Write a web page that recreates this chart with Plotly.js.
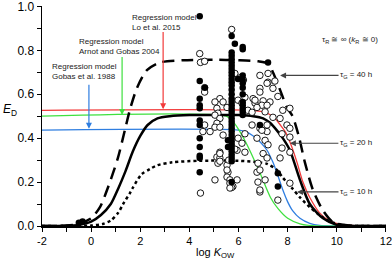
<!DOCTYPE html>
<html>
<head>
<meta charset="utf-8">
<script src="https://cdn.plot.ly/plotly-3.0.1.min.js"></script>
<style>html,body{margin:0;padding:0;background:#fff;}#chart{width:392px;height:265px;}</style>
</head>
<body>
<div id="chart"></div>
<script>
// ---- Data ----
// Model curves (log Kow, E_D)
const tau40X = [-2, -1, -0.5, 0, 0.36, 0.7, 1.09, 1.38, 1.58, 1.87, 2.27, 2.8, 3.74, 5, 6, 6.8, 7.2, 7.36, 7.69, 7.97, 8.2, 8.45, 8.7, 9.03, 9.44, 9.84, 10.5, 12];
const tau40Y = [0, 0.002, 0.01, 0.035, 0.086, 0.18, 0.31, 0.44, 0.53, 0.63, 0.71, 0.745, 0.755, 0.757, 0.755, 0.75, 0.74, 0.71, 0.62, 0.54, 0.50, 0.41, 0.29, 0.164, 0.07, 0.018, 0.002, 0];
const tau20X = [-2, -1, -0.5, 0, 0.4, 0.8, 1.1, 1.4, 1.7, 2.0, 2.3, 2.7, 3.2, 4, 5, 6, 6.6, 7.0, 7.28, 7.6, 7.8, 8.09, 8.5, 8.9, 9.44, 10, 10.5, 12];
const tau20Y = [0, 0.001, 0.005, 0.02, 0.05, 0.1, 0.17, 0.25, 0.34, 0.41, 0.46, 0.49, 0.5, 0.505, 0.505, 0.505, 0.5, 0.49, 0.47, 0.43, 0.40, 0.345, 0.21, 0.1, 0.035, 0.005, 0.001, 0];
const tau10X = [-2, 0, 0.5, 0.8, 1.1, 1.3, 1.58, 1.7, 2.05, 2.4, 2.7, 3.3, 4.4, 6, 6.8, 7.16, 7.56, 7.8, 8.2, 8.5, 8.9, 9.2, 9.6, 10, 10.5, 12];
const tau10Y = [0, 0.002, 0.01, 0.025, 0.06, 0.1, 0.15, 0.175, 0.235, 0.26, 0.277, 0.29, 0.297, 0.297, 0.29, 0.283, 0.255, 0.22, 0.17, 0.13, 0.086, 0.058, 0.027, 0.01, 0.002, 0];
const loX = [-2, 6.5, 7.0, 7.4, 7.7, 7.9, 8.1, 8.38, 8.62, 8.9, 9.3, 9.72, 10.2, 10.8, 12];
const loY = [0.527, 0.527, 0.52, 0.50, 0.46, 0.43, 0.38, 0.29, 0.2, 0.13, 0.06, 0.022, 0.006, 0.001, 0];
const arnotX = [-2, 5.5, 5.75, 6.0, 6.3, 6.6, 6.9, 7.3, 7.6, 8.0, 8.5, 9.0, 12];
const arnotY = [0.50, 0.50, 0.48, 0.44, 0.38, 0.31, 0.235, 0.13, 0.08, 0.035, 0.01, 0.002, 0];
const gobasX = [-2, 6.0, 6.3, 6.6, 6.9, 7.16, 7.4, 7.6, 7.8, 8.0, 8.2, 8.5, 8.9, 9.3, 12];
const gobasY = [0.437, 0.437, 0.43, 0.41, 0.38, 0.345, 0.29, 0.23, 0.165, 0.11, 0.07, 0.035, 0.012, 0.003, 0];

// Observed data (filled)
const filledX = [4.42, 4.42, 4.42, 4.42, 4.42, 4.42, 4.42, 4.42, 4.42, 4.42, 4.42, 4.42, 4.63,
  -0.5, -0.35,
  5.72, 5.72, 5.72, 5.72, 5.72, 5.72, 5.72, 5.72, 5.72, 5.72, 5.72, 5.72, 5.72, 5.72, 5.72, 5.72, 5.72, 5.72, 5.72, 5.72, 5.72, 5.72, 5.72, 5.72, 5.72, 5.72, 5.72, 5.72, 5.72, 5.72, 5.72, 5.72, 5.72, 5.72, 5.72,
  5.85, 5.98, 5.57, 5.57,
  6.17, 6.17, 6.17, 6.17, 6.17, 6.17, 6.17, 6.17, 6.17, 6.17, 6.17, 6.17,
  6.87, 7.2, 7.6, 7.6];
const filledY = [0.955, 0.66, 0.58, 0.55, 0.536, 0.48, 0.46, 0.40, 0.36, 0.32, 0.31, 0.245, 0.63,
  0.015, 0.02,
  0.865, 0.79, 0.775, 0.76, 0.745, 0.73, 0.715, 0.70, 0.685, 0.67, 0.655, 0.64, 0.62, 0.60, 0.58, 0.565, 0.55, 0.535, 0.52, 0.505, 0.49, 0.475, 0.46, 0.445, 0.43, 0.415, 0.40, 0.385, 0.37, 0.355, 0.34, 0.325, 0.31, 0.295, 0.2,
  0.83, 0.67, 0.39, 0.36,
  0.815, 0.805, 0.685, 0.665, 0.65, 0.63, 0.6, 0.565, 0.55, 0.535, 0.52, 0.505,
  0.46, 0.745, 0.24, 0.18];

// Observed data (open)
const openX = [4.42, 4.45, 4.62, 4.62, 4.62, 4.62, 4.45, 5.72, 6.06, 6.2, 5.85,
  6.87, 7.2, 7.2, 7.48, 6.87, 6.87, 7.6, 7.0, 7.28, 6.67, 6.95, 7.16, 8.09, 7.8, 5.24, 5.04, 5.37, 5.53, 5.12, 5.16, 5.98, 6.14, 6.38, 6.55, 6.75, 7.08, 7.4, 7.69, 7.97,
  7.16, 7.4, 6.59, 6.26, 6.67,
  5.04, 5.24, 5.12, 5.04, 5.24, 4.55, 4.84, 5.37, 6.55, 6.87, 7.16, 7.16, 6.26, 5.98, 6.14, 6.26, 5.94, 5.24, 5.12, 5.24, 5.16, 5.53, 5.57, 5.53, 5.65, 5.04, 5.94, 7.08, 6.75, 6.79, 7.0, 7.08, 5.77, 6.87, 6.79, 7.6,
  8.09, 7.77, 8.09, 7.77, 7.2, 7.16, 6.87, 6.75, 8.09, 7.69, 6.87, 8.09, 6.95, 5.72, 5.6, 5.85, 5.24, 5.24, 5.53, 5.65, 5.65];
const openY = [0.785, 0.745, 0.75, 0.63, 0.61, 0.46, 0.15, 0.895, 0.675, 0.665, 0.695,
  0.686, 0.695, 0.655, 0.66, 0.627, 0.61, 0.59, 0.57, 0.565, 0.56, 0.55, 0.55, 0.536, 0.527, 0.58, 0.565, 0.565, 0.54, 0.536, 0.514, 0.573, 0.56, 0.527, 0.518, 0.54, 0.52, 0.495, 0.49, 0.46,
  0.65, 0.627, 0.58, 0.586, 0.573,
  0.505, 0.49, 0.468, 0.45, 0.45, 0.43, 0.43, 0.414, 0.46, 0.445, 0.46, 0.43, 0.42, 0.40, 0.377, 0.336, 0.345, 0.336, 0.314, 0.31, 0.286, 0.277, 0.245, 0.223, 0.21, 0.21, 0.21, 0.21, 0.245, 0.286, 0.33, 0.39, 0.18, 0.155, 0.2, 0.118,
  0.336, 0.355, 0.195, 0.42, 0.37, 0.31, 0.164, 0.40, 0.405, 0.31, 0.255, 0.445, 0.436, 0.175, 0.30, 0.35, 0.33, 0.295, 0.255, 0.195, 0.173];

const xTicks = [-2, 0, 2, 4, 6, 8, 10, 12];
const yTicks = [0.0, 0.2, 0.4, 0.6, 0.8, 1.0];

// ---- Chart ----
const FONT = 'Liberation Sans, Arial, Helvetica, sans-serif';
const RED = '#f23a3a', GREEN = '#3fe03f', BLUE = '#2f7ee0';
const sm = 0.75;
function curve(x, y, color, width, dash) {
  return {x: x, y: y, type: 'scatter', mode: 'lines', hoverinfo: 'skip',
    line: {color: color, width: width, dash: dash, shape: 'spline', smoothing: sm}};
}
const traces = [
  curve(gobasX, gobasY, BLUE, 1.3, 'solid'),
  curve(arnotX, arnotY, GREEN, 1.3, 'solid'),
  curve(loX, loY, RED, 1.3, 'solid'),
  curve(tau10X, tau10Y, '#000', 2.5, 'dot'),
  curve(tau20X, tau20Y, '#000', 2.5, 'solid'),
  curve(tau40X, tau40Y, '#000', 2.5, '12px,7px'),
  {x: openX, y: openY, type: 'scatter', mode: 'markers',
    marker: {symbol: 'circle', size: 6.5, color: '#fff', line: {color: '#000', width: 0.9}}},
  {x: filledX, y: filledY, type: 'scatter', mode: 'markers',
    marker: {symbol: 'circle', size: 6.5, color: '#000', line: {color: '#000', width: 0}}}
];

const annFont = {family: FONT, size: 8, color: '#222'};
const annotations = [
  {xref: 'x', yref: 'y', x: -1.67, y: 0.755, xanchor: 'left', yanchor: 'top', align: 'left', showarrow: false,
    text: 'Regression model<br>Gobas et al. 1988', font: annFont},
  {xref: 'x', yref: 'y', x: -0.58, y: 0.868, xanchor: 'left', yanchor: 'top', align: 'left', showarrow: false,
    text: 'Regression model<br>Arnot and Gobas 2004', font: annFont},
  {xref: 'x', yref: 'y', x: 1.58, y: 0.98, xanchor: 'left', yanchor: 'top', align: 'left', showarrow: false,
    text: 'Regression model<br>Lo et al. 2015', font: annFont},
  // regression arrows
  {xref: 'x', yref: 'y', x: -0.09, y: 0.443, axref: 'x', ayref: 'y', ax: -0.09, ay: 0.65, text: '', showarrow: true,
    arrowhead: 2, arrowsize: 1, arrowwidth: 1.2, arrowcolor: BLUE},
  {xref: 'x', yref: 'y', x: 1.26, y: 0.505, axref: 'x', ayref: 'y', ax: 1.26, ay: 0.777, text: '', showarrow: true,
    arrowhead: 2, arrowsize: 1, arrowwidth: 1.2, arrowcolor: GREEN},
  {xref: 'x', yref: 'y', x: 2.93, y: 0.532, axref: 'x', ayref: 'y', ax: 2.93, ay: 0.89, text: '', showarrow: true,
    arrowhead: 2, arrowsize: 1, arrowwidth: 1.2, arrowcolor: RED},
  // tau labels
  {xref: 'x', yref: 'y', x: 10.54, y: 0.845, showarrow: false, xanchor: 'center',
    text: 'τ<sub>R</sub> ≅ ∞ (<i>k</i><sub>R</sub> ≅ 0)', font: annFont},
  {xref: 'x', yref: 'y', x: 7.69, y: 0.686, showarrow: true, ax: 76, ay: 0,
    text: 'τ<sub>G</sub> = 40 h', font: annFont, arrowhead: 2, arrowsize: 1, arrowwidth: 1.2, arrowcolor: '#444'},
  {xref: 'x', yref: 'y', x: 8.09, y: 0.377, showarrow: true, ax: 66, ay: 0,
    text: 'τ<sub>G</sub> = 20 h', font: annFont, arrowhead: 2, arrowsize: 1, arrowwidth: 1.2, arrowcolor: '#444'},
  {xref: 'x', yref: 'y', x: 8.38, y: 0.155, showarrow: true, ax: 59, ay: 0,
    text: 'τ<sub>G</sub> = 10 h', font: annFont, arrowhead: 2, arrowsize: 1, arrowwidth: 1.2, arrowcolor: '#444'},
  // axis titles
  {xref: 'paper', yref: 'paper', x: 0.503, y: -0.123, showarrow: false, xanchor: 'center', yanchor: 'middle',
    text: 'log <i>K</i><sub>OW</sub>', font: {family: FONT, size: 11, color: '#000'}},
  {xref: 'paper', yref: 'paper', x: -0.093, y: 0.527, showarrow: false, xanchor: 'center', yanchor: 'middle',
    text: '<i>E</i><sub>D</sub>', font: {family: FONT, size: 12, color: '#000'}}
];

const layout = {
  width: 392, height: 265,
  margin: {l: 42, r: 6, t: 6, b: 39, pad: 0},
  paper_bgcolor: '#fff', plot_bgcolor: '#fff',
  showlegend: false,
  font: {family: FONT, size: 11, color: '#000'},
  xaxis: {range: [-2, 12.002], tickvals: xTicks, ticktext: xTicks.map(String), ticks: 'outside', ticklen: 4, tickwidth: 1,
    tickcolor: '#000', showline: true, linecolor: '#000', linewidth: 1.5, showgrid: false, zeroline: false,
    ticklabeloverflow: 'allow',
    minor: {dtick: 1, tick0: 0, ticks: 'outside', ticklen: 4, tickwidth: 1, tickcolor: '#000', showgrid: false},
    tickfont: {family: FONT, size: 11, color: '#000'}, fixedrange: true},
  yaxis: {range: [0, 1.002], tickvals: yTicks, ticktext: yTicks.map(v => v.toFixed(1)), ticks: 'outside', ticklen: 4, tickwidth: 1,
    tickcolor: '#000', showline: true, linecolor: '#000', linewidth: 1.5, showgrid: false, zeroline: false,
    ticklabeloverflow: 'allow',
    minor: {dtick: 0.1, tick0: 0, ticks: 'outside', ticklen: 4, tickwidth: 1, tickcolor: '#000', showgrid: false},
    tickfont: {family: FONT, size: 12, color: '#000'}, fixedrange: true},
  annotations: annotations
};

Plotly.newPlot('chart', traces, layout, {staticPlot: true, displayModeBar: false});
</script>
</body>
</html>
